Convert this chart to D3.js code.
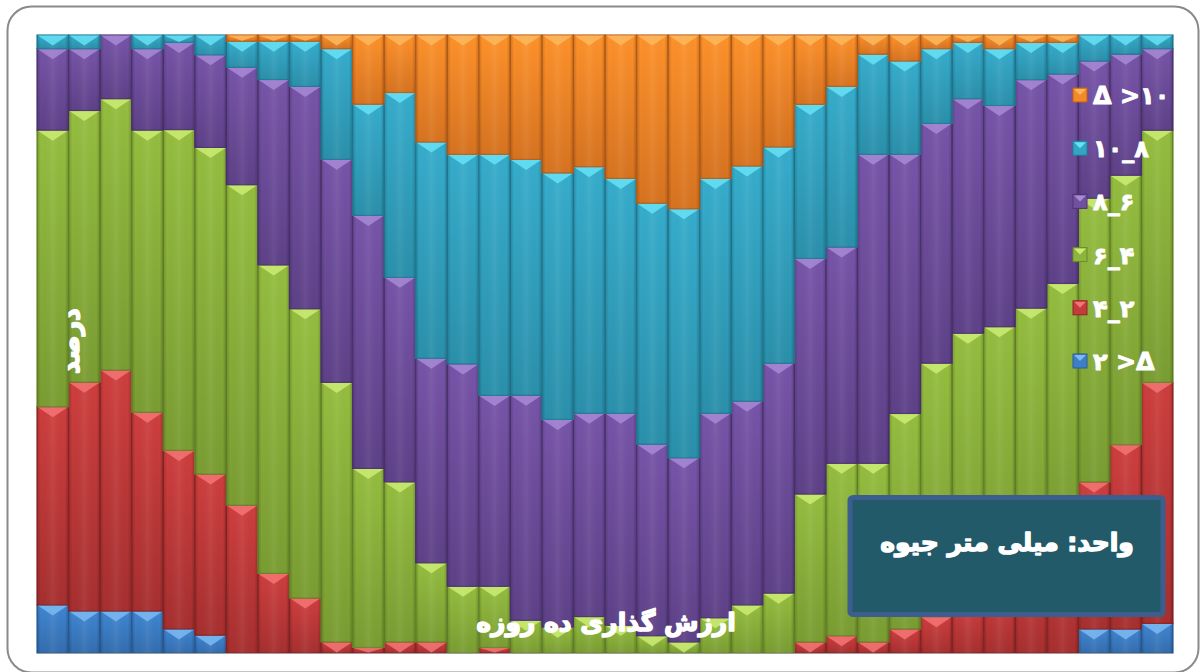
<!DOCTYPE html>
<html>
<head>
<meta charset="utf-8">
<script src="https://cdn.jsdelivr.net/npm/d3@7"></script>
<style>
  body { margin: 0; background: #fff; }
  svg text { font-family: "DejaVu Sans", sans-serif; font-weight: bold; }
</style>
</head>
<body>
<svg id="mySvg"></svg>
<script>
// ten-day periods of the year
const periods = d3.range(1, 37);

// share of each rainfall class per period (percent)
const lt2   = [7.8,6.8,6.8,6.8,3.9,2.9,0,0,0,0, 0,0,0,0,0,0,0,0,0,0, 0,0,0,0,0,0,0,0,0,0, 0,0,0,3.9,3.9,4.8];
const r2_4  = [32.1,37.0,39.0,32.2,28.9,26.1,23.9,12.9,8.9,1.8, 0.9,1.8,1.8,0,0.9,0,0,0,0,0, 0,0,0,0,1.8,2.8,1.8,3.9,5.9,7.8, 10.2,15.0,20.7,23.8,30.0,39.0];
const r4_6  = [44.8,43.9,43.9,45.7,51.9,52.9,51.8,49.9,46.8,42.0, 29.0,25.9,12.8,10.8,9.9,5.3,4.2,5.9,4.5,2.8, 1.8,5.7,7.8,9.7,23.9,27.9,28.9,34.9,41.0,44.0, 42.6,40.7,39.1,45.9,43.8,40.8];
const r6_8  = [13.2,10.0,10.3,13.2,14.1,15.0,19.0,30.0,36.0,36.1, 41.0,33.1,33.1,36.0,30.9,36.4,33.6,32.9,34.3,31.0, 29.9,33.1,33.0,37.2,38.1,35.0,50.0,42.0,38.8,38.0, 35.8,36.9,33.9,22.2,19.7,13.2];
const r8_10 = [2.2,2.2,0,2.2,1.2,3.2,4.2,6.2,7.3,17.9, 18.0,29.9,35.0,33.9,39.0,38.1,39.9,39.9,38.0,39.0, 40.4,38.0,38.1,35.0,24.9,26.0,16.2,15.1,12.1,9.1, 9.2,6.0,5.1,4.2,3.1,2.2];
const gt10  = [0,0,0,0,0,0,1.0,1.0,1.0,2.2, 11.2,9.3,17.3,19.3,19.3,20.1,22.3,21.3,23.2,27.2, 28.2,23.2,21.2,18.1,11.2,8.3,3.1,4.2,2.2,1.2, 2.2,1.2,1.2,0,0,0];

const seriesKeys = ["lt2", "r2_4", "r4_6", "r6_8", "r8_10", "gt10"];
// legend labels, written in the order they show on screen (left to right)
const legendLabels = ["۲ >Δ", "۴_۲", "۶_۴", "۸_۶", "۱۰_۸", "Δ >۱۰"];

const colors = {
  lt2:   { base: "#3d7fc7", light: "#7bbaf2", dark: "#2a5f9c" },
  r2_4:  { base: "#c43b3b", light: "#f47474", dark: "#8f2626" },
  r4_6:  { base: "#8db43c", light: "#cdec73", dark: "#6a8a2a" },
  r6_8:  { base: "#7150a0", light: "#a88ad6", dark: "#4f3574" },
  r8_10: { base: "#33a4c2", light: "#66e2f6", dark: "#237f99" },
  gt10:  { base: "#f28a28", light: "#fbb85e", dark: "#c0611a" }
};

const table = periods.map(function(p, i) {
  return { period: p, lt2: lt2[i], r2_4: r2_4[i], r4_6: r4_6[i],
           r6_8: r6_8[i], r8_10: r8_10[i], gt10: gt10[i] };
});

const width = 1200, height = 672;
const margin = { top: 35, right: 27, bottom: 19, left: 37 };

const svg = d3.select("#mySvg")
  .attr("width", width)
  .attr("height", height);

const defs = svg.append("defs");
seriesKeys.forEach(function(k) {
  const g = defs.append("linearGradient")
    .attr("id", "grad_" + k)
    .attr("x1", 0).attr("y1", 0).attr("x2", 0).attr("y2", 1);
  g.append("stop").attr("offset", "0%").attr("stop-color", d3.color(colors[k].base).brighter(0.15));
  g.append("stop").attr("offset", "100%").attr("stop-color", d3.interpolateRgb(colors[k].base, colors[k].dark)(0.55));
  // sideways shading so bars look rounded
  const h = defs.append("linearGradient")
    .attr("id", "side_" + k)
    .attr("x1", 0).attr("y1", 0).attr("x2", 1).attr("y2", 0);
  h.append("stop").attr("offset", "0%").attr("stop-color", "#000").attr("stop-opacity", 0.18);
  h.append("stop").attr("offset", "12%").attr("stop-color", "#000").attr("stop-opacity", 0);
  h.append("stop").attr("offset", "50%").attr("stop-color", "#fff").attr("stop-opacity", 0.06);
  h.append("stop").attr("offset", "88%").attr("stop-color", "#000").attr("stop-opacity", 0);
  h.append("stop").attr("offset", "100%").attr("stop-color", "#000").attr("stop-opacity", 0.2);
});

// outer frame
svg.append("rect")
  .attr("x", 7.5).attr("y", 6.5)
  .attr("width", 1191).attr("height", 666)
  .attr("rx", 24)
  .attr("fill", "#fff")
  .attr("stroke", "#8a8a8a")
  .attr("stroke-width", 2);

const x = d3.scaleBand()
  .domain(periods)
  .range([margin.left, width - margin.right])
  .padding(0);

const y = d3.scaleLinear()
  .domain([0, 1])
  .range([height - margin.bottom, margin.top]);

const stacked = d3.stack()
  .keys(seriesKeys)
  .offset(d3.stackOffsetExpand)(table);

const layers = svg.append("g").selectAll("g")
  .data(stacked)
  .enter()
  .append("g");

const seg = layers.selectAll("g")
  .data(function(s) { return s.map(function(d) { d.key = s.key; return d; }); })
  .enter()
  .filter(function(d) { return d[1] - d[0] > 0; })
  .append("g");

seg.append("rect")
  .attr("x", function(d) { return x(d.data.period); })
  .attr("y", function(d) { return y(d[1]); })
  .attr("width", x.bandwidth())
  .attr("height", function(d) { return y(d[0]) - y(d[1]); })
  .attr("fill", function(d) { return "url(#grad_" + d.key + ")"; })
  .attr("stroke", function(d) { return colors[d.key].dark; })
  .attr("stroke-width", 1.2);

seg.append("rect")
  .attr("x", function(d) { return x(d.data.period); })
  .attr("y", function(d) { return y(d[1]); })
  .attr("width", x.bandwidth())
  .attr("height", function(d) { return y(d[0]) - y(d[1]); })
  .attr("fill", function(d) { return "url(#side_" + d.key + ")"; });

// bevel on top of each piece
seg.append("path")
  .attr("d", function(d) {
    const x0 = x(d.data.period) + 0.8, w = x.bandwidth() - 1.6;
    const top = y(d[1]) + 0.6;
    const h = Math.min(10, y(d[0]) - y(d[1]) - 1);
    return "M" + x0 + "," + top + "L" + (x0 + w) + "," + top +
           "L" + (x0 + w / 2) + "," + (top + Math.max(h, 0)) + "Z";
  })
  .attr("fill", function(d) { return colors[d.key].light; })
  .attr("opacity", 0.85);

// thin base line
svg.append("line")
  .attr("x1", margin.left).attr("x2", width - margin.right)
  .attr("y1", height - margin.bottom + 0.5).attr("y2", height - margin.bottom + 0.5)
  .attr("stroke", "#a0a0a0").attr("stroke-width", 1);

// white text gets a thin white outline so it reads as heavy as the original
function heavy(sel, w) {
  return sel.attr("fill", "#fff")
    .attr("stroke", "#fff")
    .attr("stroke-width", w)
    .attr("stroke-linejoin", "round");
}

// y axis title
heavy(svg.append("text")
  .attr("transform", "translate(79,341) rotate(-90)")
  .attr("text-anchor", "middle")
  .attr("font-size", 25)
  .attr("direction", "rtl")
  .text("درصد"), 1.4);

// x axis title
heavy(svg.append("text")
  .attr("x", 606).attr("y", 631)
  .attr("text-anchor", "middle")
  .attr("font-size", 25)
  .attr("direction", "rtl")
  .text("ارزش گذاری ده روزه"), 1.4);

// legend, top entry is >10
const legend = svg.append("g").selectAll("g")
  .data(seriesKeys.slice().reverse())
  .enter()
  .append("g")
  .attr("transform", function(d, i) { return "translate(1073," + (95 + i * 53.2) + ")"; });

legend.append("rect")
  .attr("x", 0).attr("y", -7)
  .attr("width", 14).attr("height", 14)
  .attr("fill", function(k) { return colors[k].base; })
  .attr("stroke", function(k) { return colors[k].dark; })
  .attr("stroke-width", 1);

legend.append("path")
  .attr("d", "M1,-6L13,-6L7,0Z")
  .attr("fill", function(k) { return colors[k].light; });

heavy(legend.append("text")
  .attr("x", 20).attr("y", 9)
  .attr("font-size", 24)
  .attr("style", "direction:ltr; unicode-bidi:bidi-override")
  .text(function(k) { return legendLabels[seriesKeys.indexOf(k)]; }), 0.9);

// unit box
svg.append("rect")
  .attr("x", 850).attr("y", 497.5)
  .attr("width", 313).attr("height", 117)
  .attr("rx", 3)
  .attr("fill", "#225a6a")
  .attr("stroke", "#3b5e8e")
  .attr("stroke-width", 5);

heavy(svg.append("text")
  .attr("x", 1007).attr("y", 551)
  .attr("text-anchor", "middle")
  .attr("font-size", 25)
  .attr("direction", "rtl")
  .text("واحد: میلی متر جیوه"), 1.4);
</script>
</body>
</html>
